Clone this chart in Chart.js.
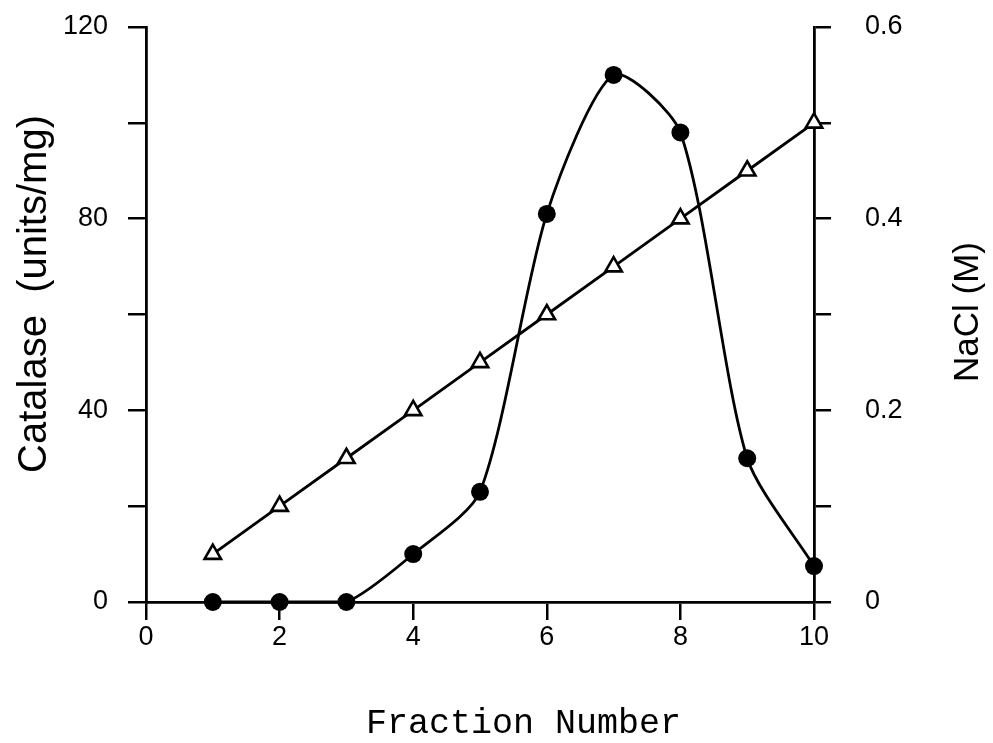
<!DOCTYPE html>
<html>
<head>
<meta charset="utf-8">
<script src="https://cdn.jsdelivr.net/npm/chart.js@4/dist/chart.umd.min.js"></script>
<style>
  html, body { margin: 0; padding: 0; background: #ffffff; }
  #wrap { width: 993px; height: 743px; }
</style>
</head>
<body>
<div id="wrap"><canvas id="c" width="993" height="743"></canvas></div>
<script>
// ---- data ----
const fractions = [1, 2, 3, 4, 5, 6, 7, 8, 9, 10];
const catalase = [0, 0, 0, 10, 23, 81, 110, 98, 30, 7.5];   // units/mg (left axis)
const nacl = [0.05, 0.10, 0.15, 0.20, 0.25, 0.30, 0.35, 0.40, 0.45, 0.50]; // M (right axis)
const xTicks = [0, 2, 4, 6, 8, 10];
const leftTickLabels = [0, 40, 80, 120];
const rightTickLabels = [0, 0.2, 0.4, 0.6];
const xTitle = 'Fraction Number';
const leftTitle = 'Catalase  (units/mg)';
const rightTitle = 'NaCl (M)';

const tickFont = { family: '"Liberation Sans", Arial, sans-serif', size: 27 };
const leftTitleFont = '40px "Liberation Sans", Arial, sans-serif';
const rightTitleFont = '35px "Liberation Sans", Arial, sans-serif';
const xTitleFont = '35px "Liberation Mono", "Courier New", monospace';

const titlesPlugin = {
  id: 'titles',
  afterDraw(chart) {
    const ctx = chart.ctx;
    const xs = chart.scales.x;
    ctx.save();
    ctx.fillStyle = '#000';
    ctx.textAlign = 'center';
    ctx.textBaseline = 'middle';
    ctx.font = xTitleFont;
    ctx.fillText(xTitle, xs.getPixelForValue(5.65), 724);
    ctx.restore();

    ctx.save();
    ctx.fillStyle = '#000';
    ctx.textAlign = 'center';
    ctx.textBaseline = 'middle';
    ctx.font = leftTitleFont;
    ctx.translate(35, 294);
    ctx.rotate(-Math.PI / 2);
    ctx.fillText(leftTitle, 0, 0);
    ctx.restore();

    ctx.save();
    ctx.fillStyle = '#000';
    ctx.textAlign = 'center';
    ctx.textBaseline = 'middle';
    ctx.font = rightTitleFont;
    ctx.translate(968, 312);
    ctx.rotate(-Math.PI / 2);
    ctx.fillText(rightTitle, 0, 0);
    ctx.restore();
  }
};

function noOverflow(s) {
  s.paddingTop = 0; s.paddingBottom = 0; s.paddingLeft = 0; s.paddingRight = 0;
}

new Chart(document.getElementById('c'), {
  type: 'line',
  data: {
    datasets: [
      {
        label: 'Catalase',
        data: fractions.map((f, i) => ({ x: f, y: catalase[i] })),
        yAxisID: 'y',
        borderColor: '#000',
        backgroundColor: '#000',
        borderWidth: 2.8,
        pointRadius: 9,
        pointStyle: 'circle',
        pointBackgroundColor: '#000',
        pointBorderColor: '#000',
        pointBorderWidth: 0,
        tension: 0.25,
        fill: false
      },
      {
        label: 'NaCl',
        data: fractions.map((f, i) => ({ x: f, y: nacl[i] })),
        yAxisID: 'y1',
        borderColor: '#000',
        backgroundColor: '#fff',
        borderWidth: 2.8,
        pointRadius: 9.5,
        pointStyle: 'triangle',
        pointBackgroundColor: '#fff',
        pointBorderColor: '#000',
        pointBorderWidth: 2.6,
        tension: 0,
        fill: false
      }
    ]
  },
  options: {
    responsive: false,
    animation: false,
    devicePixelRatio: 1,
    clip: false,
    layout: { padding: { top: 27, left: 0, right: 0, bottom: 0 } },
    plugins: { legend: { display: false }, tooltip: { enabled: false } },
    scales: {
      x: {
        type: 'linear',
        min: 0, max: 10,
        afterBuildTicks(s) { s.ticks = xTicks.map(v => ({ value: v })); },
        afterFit(s) { s.height = 141; noOverflow(s); },
        grid: { drawOnChartArea: false, drawTicks: true, tickLength: 18, color: '#000', lineWidth: 2.5 },
        border: { display: true, color: '#000', width: 2.8 },
        ticks: { color: '#000', font: tickFont, padding: 1, maxRotation: 0 }
      },
      y: {
        position: 'left',
        min: 0, max: 120,
        ticks: {
          stepSize: 20, color: '#000', font: tickFont, padding: 20,
          callback: v => leftTickLabels.includes(v) ? String(v) : ''
        },
        afterFit(s) { s.width = 146; noOverflow(s); },
        grid: { drawOnChartArea: false, drawTicks: true, tickLength: 18, color: '#000', lineWidth: 2.5 },
        border: { display: true, color: '#000', width: 2.8 }
      },
      y1: {
        position: 'right',
        min: 0, max: 0.6,
        ticks: {
          stepSize: 0.1, color: '#000', font: tickFont, padding: 34,
          callback: v => {
            const r = Math.round(v * 10) / 10;
            return rightTickLabels.includes(r) ? (r === 0 ? '0' : r.toFixed(1)) : '';
          }
        },
        afterFit(s) { s.width = 179; noOverflow(s); },
        grid: { drawOnChartArea: false, drawTicks: true, tickLength: 17, color: '#000', lineWidth: 2.5 },
        border: { display: true, color: '#000', width: 2.8 }
      }
    }
  },
  plugins: [titlesPlugin]
});
</script>
</body>
</html>
